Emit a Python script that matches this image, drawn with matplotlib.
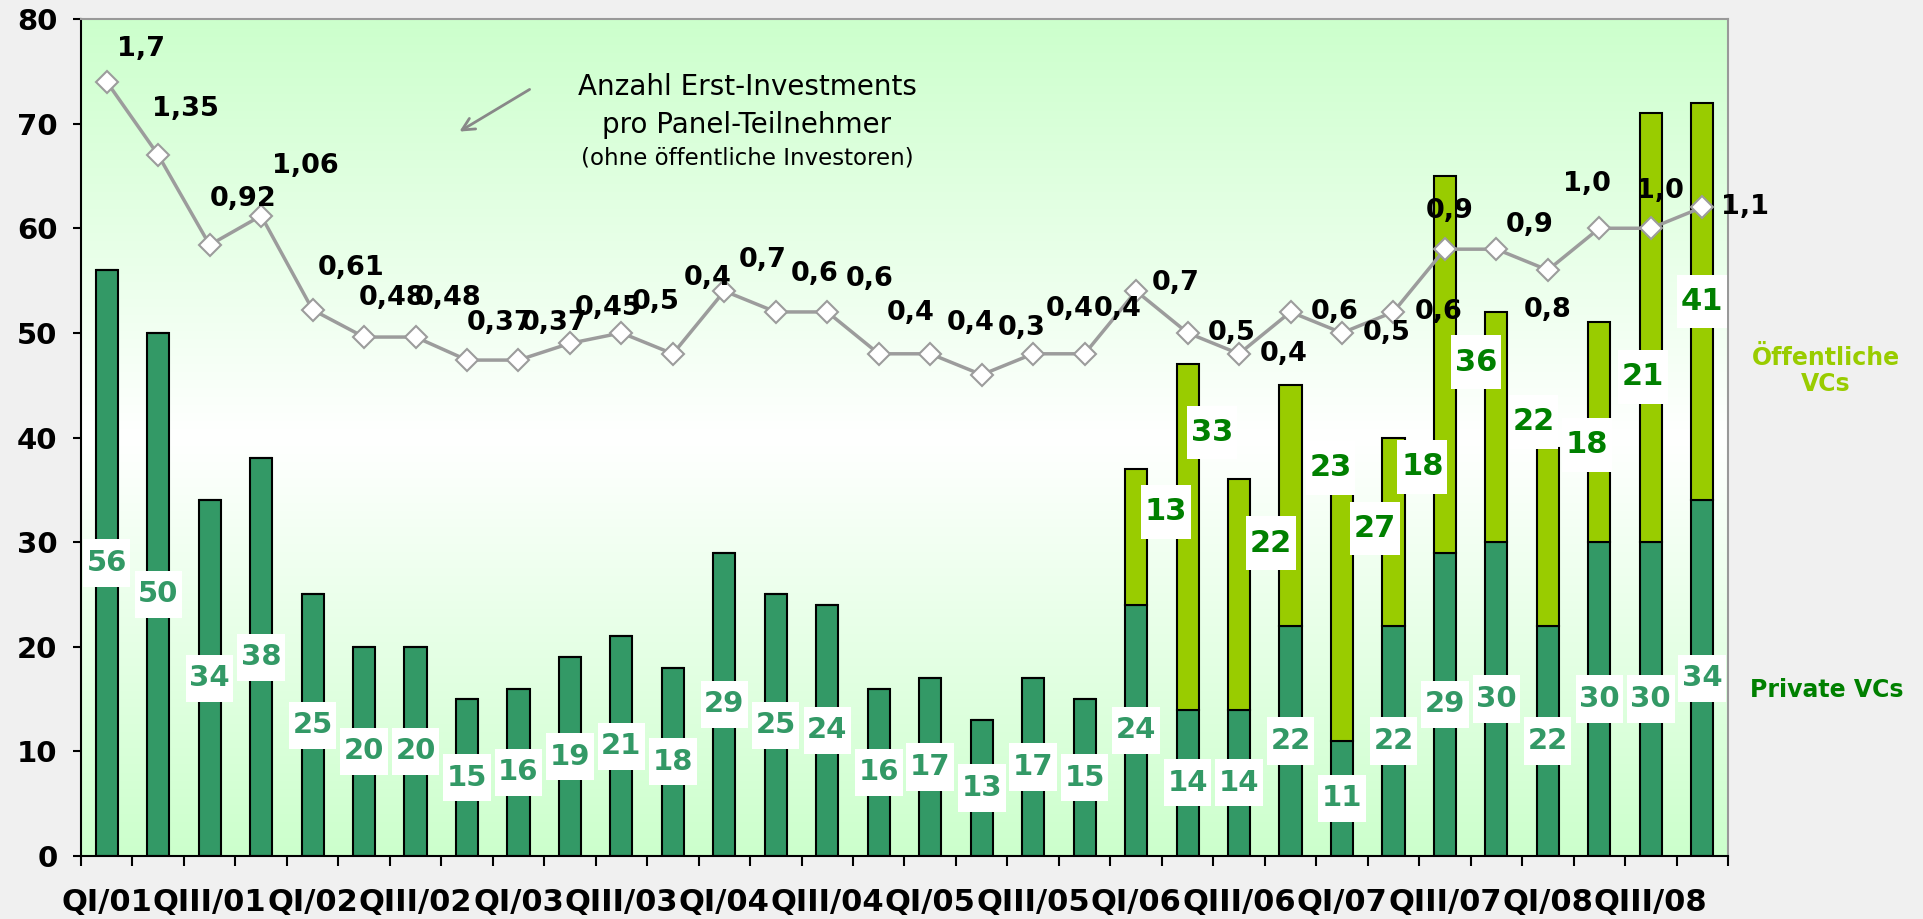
import numpy as np
import matplotlib
matplotlib.use('Agg')
import matplotlib.pyplot as plt
from matplotlib.path import Path

# Daten
quartale = ['QI/01', 'QIII/01', 'QI/02', 'QIII/02', 'QI/03', 'QIII/03', 'QI/04', 'QIII/04',
            'QI/05', 'QIII/05', 'QI/06', 'QIII/06', 'QI/07', 'QIII/07', 'QI/08', 'QIII/08']
privat = [56, 50, 34, 38, 25, 20, 20, 15, 16, 19, 21, 18, 29, 25, 24, 16,
          17, 13, 17, 15, 24, 14, 14, 22, 11, 22, 29, 30, 22, 30, 30, 34]
oeffentlich = [0] * 20 + [13, 33, 22, 23, 24, 18, 36, 22, 17, 21, 41, 38]
oeff_labels = [''] * 20 + ['13', '33', '22', '23', '27', '18', '36', '22', '18', '21', '41', '']
erst_inv = [1.7, 1.35, 0.92, 1.06, 0.61, 0.48, 0.48, 0.37, 0.37, 0.45, 0.5, 0.4, 0.7, 0.6, 0.6, 0.4,
            0.4, 0.3, 0.4, 0.4, 0.7, 0.5, 0.4, 0.6, 0.5, 0.6, 0.9, 0.9, 0.8, 1.0, 1.0, 1.1]

# Lage der Beschriftungen (wie im Original etwas verschoben)
oeff_dx = [0] * 20 + [0.58, 0.48, 0.62, 0.78, 0.64, 0.56, 0.6, 0.72, 0.76, 0.85, 1.0, 0]
oeff_dy = [0] * 20 + [2.4, 10, 4.9, 3.6, 8.3, 6.2, 0.2, 0.5, 8.8, 5.3, 2.5, 0]
linie_off = [(34, 33), (27, 46), (33, 46), (44, 50), (39, 42), (28, 39), (33, 39), (33, 37),
             (36, 37), (38, 35), (34, 31), (35, 76), (38, 31), (39, 38), (42, 33), (32, 41),
             (40, 31), (40, 47), (37, 45), (33, 45), (40, 8), (44, 0), (45, 0), (44, 0),
             (45, 0), (45, 0), (5, 38), (33, 24), (0, -40), (-12, 44), (9, 37), (43, 0)]

dunkelgruen = '#339966'
hellgruen = '#99CC00'
gruen = '#008000'
grau = '#9C9C9C'


def kasten(padx, pady):
    # weisser Kasten mit eigenem Rand in x und y
    def box(x0, y0, width, height, mutation_size):
        px = padx * mutation_size
        py = pady * mutation_size
        return Path([(x0 - px, y0 - py), (x0 + width + px, y0 - py),
                     (x0 + width + px, y0 + height + py), (x0 - px, y0 + height + py),
                     (x0 - px, y0 - py)], closed=True)
    return box


fig = plt.figure(figsize=(19.23, 9.19), dpi=100, facecolor='#F0F0F0')
ax = fig.add_axes([81 / 1923, 63 / 919, 1647 / 1923, 837 / 919])

# Hintergrund: Verlauf hellgruen - weiss - hellgruen
t = np.linspace(0, 1, 256)
w = np.abs(t - 0.5) * 2
c0 = np.array([1.0, 1.0, 1.0])
c1 = np.array([0xCC, 0xFF, 0xCC]) / 255
grad = (c0[None, :] * (1 - w[:, None]) + c1[None, :] * w[:, None])[:, None, :]
ax.imshow(grad, extent=[0, 1, 0, 1], transform=ax.transAxes, aspect='auto',
          origin='lower', zorder=0, interpolation='bilinear')

x = np.arange(len(privat))
ax.bar(x, privat, width=0.43, color=dunkelgruen, edgecolor='black', linewidth=1.5, zorder=2)
ax.bar(x, oeffentlich, width=0.43, bottom=privat, color=hellgruen, edgecolor='black',
       linewidth=1.5, zorder=2)

for i, v in enumerate(privat):
    ax.text(i, v / 2, str(v), ha='center', va='center', fontsize=21, fontweight='bold',
            color=dunkelgruen, zorder=4,
            bbox=dict(boxstyle=kasten(0.12, 0.33), facecolor='white', edgecolor='none'))

for i, lab in enumerate(oeff_labels):
    if lab:
        ax.text(i + oeff_dx[i], privat[i] + oeffentlich[i] / 2 + oeff_dy[i], lab,
                ha='center', va='center', fontsize=22, fontweight='bold', color=gruen, zorder=4,
                bbox=dict(boxstyle=kasten(0.12, 0.4), facecolor='white', edgecolor='none'))

ax.set_xlim(-0.5, len(privat) - 0.5)
ax.set_ylim(0, 80)
ax.set_yticks(range(0, 81, 10))
ax.set_xticks(np.arange(0, len(privat), 2))
ax.set_xticklabels(quartale)
ax.set_xticks(np.arange(-0.5, len(privat), 1), minor=True)
ax.tick_params(axis='x', which='major', length=0, pad=23)
ax.tick_params(axis='x', which='minor', length=7, width=1.5, direction='out')
ax.tick_params(axis='y', length=6, width=1.5, direction='out', pad=11)
for lab in ax.get_xticklabels():
    lab.set_fontweight('bold')
    lab.set_fontsize(22)
for lab in ax.get_yticklabels():
    lab.set_fontweight('bold')
    lab.set_fontsize(21)
ax.spines['left'].set_linewidth(1.5)
ax.spines['bottom'].set_linewidth(1.5)
ax.spines['top'].set_color('#999999')
ax.spines['right'].set_color('#999999')
ax.spines['top'].set_linewidth(1.5)
ax.spines['right'].set_linewidth(1.5)

# Linie auf zweiter Achse
ax2 = ax.twinx()
ax2.set_ylim(-2, 2)
ax2.axis('off')
ax2.plot(x, erst_inv, color=grau, linewidth=2.5, marker='D', markersize=11,
         markerfacecolor='white', markeredgecolor=grau, markeredgewidth=1.5, zorder=5)
for i, v in enumerate(erst_inv):
    ax2.annotate(str(v).replace('.', ','), xy=(i, v), xytext=linie_off[i],
                 textcoords='offset pixels', ha='center', va='center',
                 fontsize=19.5, fontweight='bold', color='black', zorder=6)

# Erlaeuterung mit Pfeil
fig.text(747 / 1923, 1 - 87 / 919, 'Anzahl Erst-Investments', ha='center', va='center', fontsize=20)
fig.text(747 / 1923, 1 - 125 / 919, 'pro Panel-Teilnehmer', ha='center', va='center', fontsize=20)
fig.text(747 / 1923, 1 - 158 / 919, '(ohne öffentliche Investoren)', ha='center', va='center',
         fontsize=16.5)
ax.annotate('', xy=(457 / 1923, 1 - 133 / 919), xytext=(532 / 1923, 1 - 88 / 919),
            xycoords='figure fraction', textcoords='figure fraction',
            arrowprops=dict(arrowstyle='->', color='#888888', lw=2, mutation_scale=22))

# Legende als Text
fig.text(1826 / 1923, 1 - 371 / 919, 'Öffentliche\nVCs', ha='center', va='center', fontsize=17,
         fontweight='bold', color=hellgruen, linespacing=1.15)
fig.text(1827 / 1923, 1 - 690 / 919, 'Private VCs', ha='center', va='center', fontsize=17,
         fontweight='bold', color=gruen)

fig.savefig('out.png', dpi=100, facecolor=fig.get_facecolor())
